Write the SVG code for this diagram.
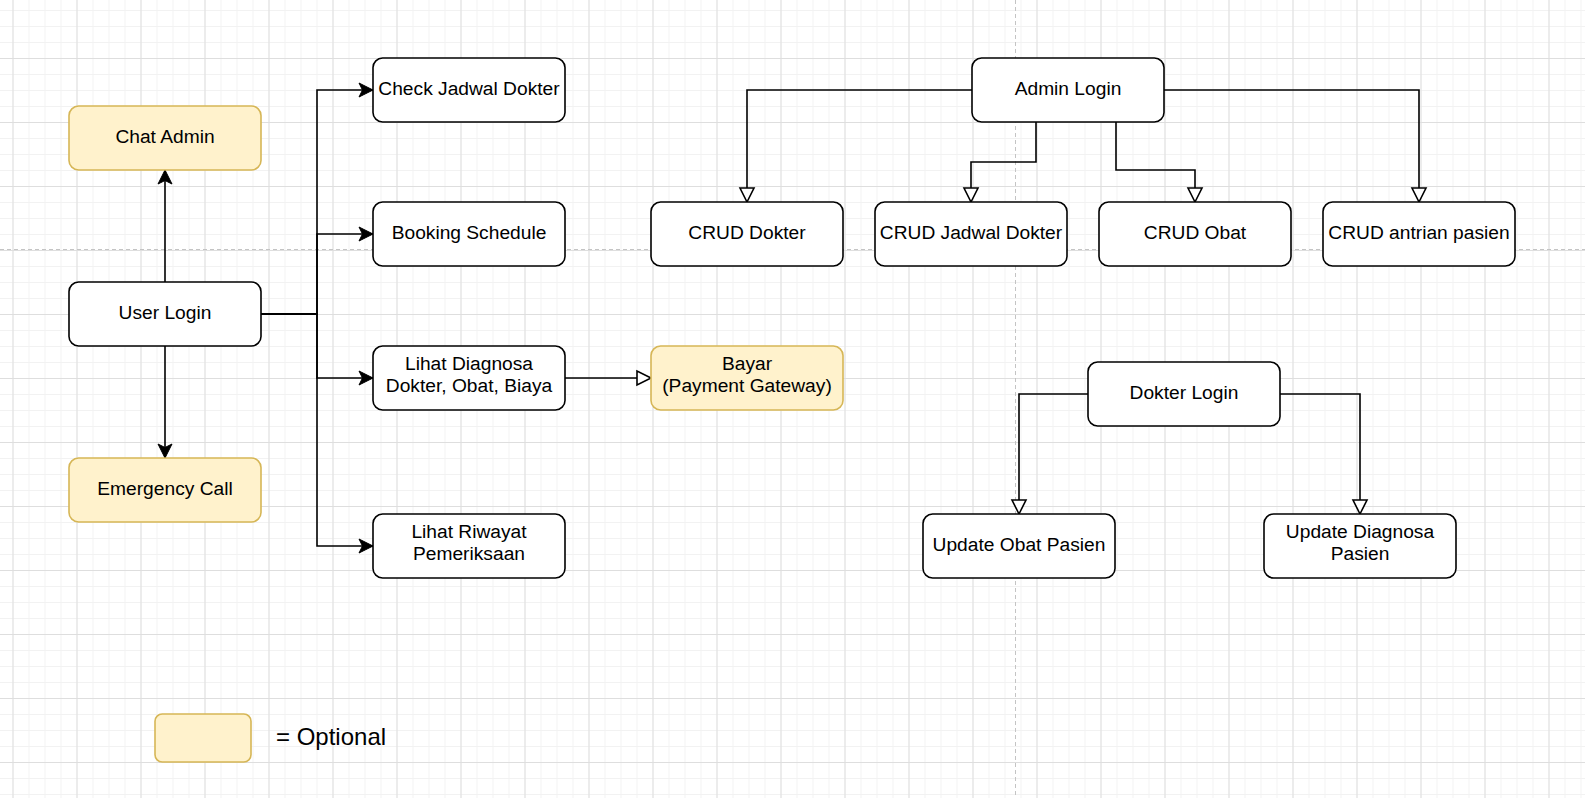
<svg xmlns="http://www.w3.org/2000/svg" width="1585" height="798" viewBox="0 0 1585 798">
<style>
.node rect{fill:#ffffff;stroke:#000000;stroke-width:1.6}
.node.opt rect{fill:#fff2cc;stroke:#d6b656}
.node text,.label{font-family:"Liberation Sans",Arial,Helvetica,sans-serif;font-size:19.2px;fill:#000000;text-anchor:middle}
.conn path{fill:none;stroke:#000000;stroke-width:1.6}
.pb{stroke:#c4c4c4;stroke-width:1;stroke-dasharray:4 3;fill:none}
</style>
<defs>
<pattern id="minor" patternUnits="userSpaceOnUse" x="12.5" y="10" width="16" height="16">
<rect x="0" y="0" width="1" height="16" fill="#f2f2f2"/>
<rect x="0" y="0" width="16" height="1" fill="#f2f2f2"/>
</pattern>
<pattern id="major" patternUnits="userSpaceOnUse" x="12.5" y="58" width="64" height="64">
<rect x="0" y="0" width="1" height="64" fill="#dedede"/>
<rect x="0" y="0" width="64" height="1" fill="#dedede"/>
</pattern>
<marker id="classic" markerUnits="userSpaceOnUse" orient="auto" refX="0" refY="0" markerWidth="30" markerHeight="30" overflow="visible">
<path d="M0,0 L-14,-7 L-10.5,0 L-14,7 Z" fill="#000000" stroke="#000000" stroke-width="1" stroke-linejoin="miter"/>
</marker>
<marker id="block" markerUnits="userSpaceOnUse" orient="auto" refX="0" refY="0" markerWidth="30" markerHeight="30" overflow="visible">
<path d="M0,0 L-14,-7 L-14,7 Z" fill="#ffffff" stroke="#000000" stroke-width="1.6"/>
</marker>
</defs>
<g id="background">
<rect x="0" y="0" width="1585" height="798" fill="#ffffff"/>
<rect x="0" y="0" width="1585" height="798" fill="url(#minor)"/>
<rect x="0" y="0" width="1585" height="798" fill="url(#major)"/>
<path class="pb" d="M0,249.5 H1585"/>
<path class="pb" d="M1015.5,0 V798"/>
</g>
<g id="connectors" class="conn">
<path d="M165,282 L165,170" marker-end="url(#classic)"/>
<path d="M165,346 L165,458" marker-end="url(#classic)"/>
<path d="M261,314 L317,314 L317,90 L373,90" marker-end="url(#classic)"/>
<path d="M261,314 L317,314 L317,234 L373,234" marker-end="url(#classic)"/>
<path d="M261,314 L317,314 L317,378 L373,378" marker-end="url(#classic)"/>
<path d="M261,314 L317,314 L317,546 L373,546" marker-end="url(#classic)"/>
<path d="M565,378 L651,378" marker-end="url(#block)"/>
<path d="M972,90 L747,90 L747,202" marker-end="url(#block)"/>
<path d="M1036,122 L1036,162 L971,162 L971,202" marker-end="url(#block)"/>
<path d="M1116,122 L1116,170 L1195,170 L1195,202" marker-end="url(#block)"/>
<path d="M1164,90 L1419,90 L1419,202" marker-end="url(#block)"/>
<path d="M1088,394 L1019,394 L1019,514" marker-end="url(#block)"/>
<path d="M1280,394 L1360,394 L1360,514" marker-end="url(#block)"/>
</g>
<g id="chat-admin" class="node opt"><rect x="69" y="106" width="192" height="64" rx="9.6"/><text x="165" y="142.5">Chat Admin</text></g>
<g id="user-login" class="node"><rect x="69" y="282" width="192" height="64" rx="9.6"/><text x="165" y="318.5">User Login</text></g>
<g id="emergency-call" class="node opt"><rect x="69" y="458" width="192" height="64" rx="9.6"/><text x="165" y="494.5">Emergency Call</text></g>
<g id="check-jadwal" class="node"><rect x="373" y="58" width="192" height="64" rx="9.6"/><text x="469" y="94.5">Check Jadwal Dokter</text></g>
<g id="booking" class="node"><rect x="373" y="202" width="192" height="64" rx="9.6"/><text x="469" y="238.5">Booking Schedule</text></g>
<g id="lihat-diagnosa" class="node"><rect x="373" y="346" width="192" height="64" rx="9.6"/><text x="469" y="370">Lihat Diagnosa</text><text x="469" y="392">Dokter, Obat, Biaya</text></g>
<g id="lihat-riwayat" class="node"><rect x="373" y="514" width="192" height="64" rx="9.6"/><text x="469" y="538">Lihat Riwayat</text><text x="469" y="560">Pemeriksaan</text></g>
<g id="bayar" class="node opt"><rect x="651" y="346" width="192" height="64" rx="9.6"/><text x="747" y="370">Bayar</text><text x="747" y="392">(Payment Gateway)</text></g>
<g id="admin-login" class="node"><rect x="972" y="58" width="192" height="64" rx="9.6"/><text x="1068" y="94.5">Admin Login</text></g>
<g id="crud-dokter" class="node"><rect x="651" y="202" width="192" height="64" rx="9.6"/><text x="747" y="238.5">CRUD Dokter</text></g>
<g id="crud-jadwal" class="node"><rect x="875" y="202" width="192" height="64" rx="9.6"/><text x="971" y="238.5">CRUD Jadwal Dokter</text></g>
<g id="crud-obat" class="node"><rect x="1099" y="202" width="192" height="64" rx="9.6"/><text x="1195" y="238.5">CRUD Obat</text></g>
<g id="crud-antrian" class="node"><rect x="1323" y="202" width="192" height="64" rx="9.6"/><text x="1419" y="238.5">CRUD antrian pasien</text></g>
<g id="dokter-login" class="node"><rect x="1088" y="362" width="192" height="64" rx="9.6"/><text x="1184" y="398.5">Dokter Login</text></g>
<g id="update-obat" class="node"><rect x="923" y="514" width="192" height="64" rx="9.6"/><text x="1019" y="550.5">Update Obat Pasien</text></g>
<g id="update-diagnosa" class="node"><rect x="1264" y="514" width="192" height="64" rx="9.6"/><text x="1360" y="538">Update Diagnosa</text><text x="1360" y="560">Pasien</text></g>
<g id="legend" class="node opt"><rect x="155" y="714" width="96" height="48" rx="7.2"/></g>
<text class="label" x="276" y="745" style="text-anchor:start;font-size:24px">= Optional</text>
</svg>
